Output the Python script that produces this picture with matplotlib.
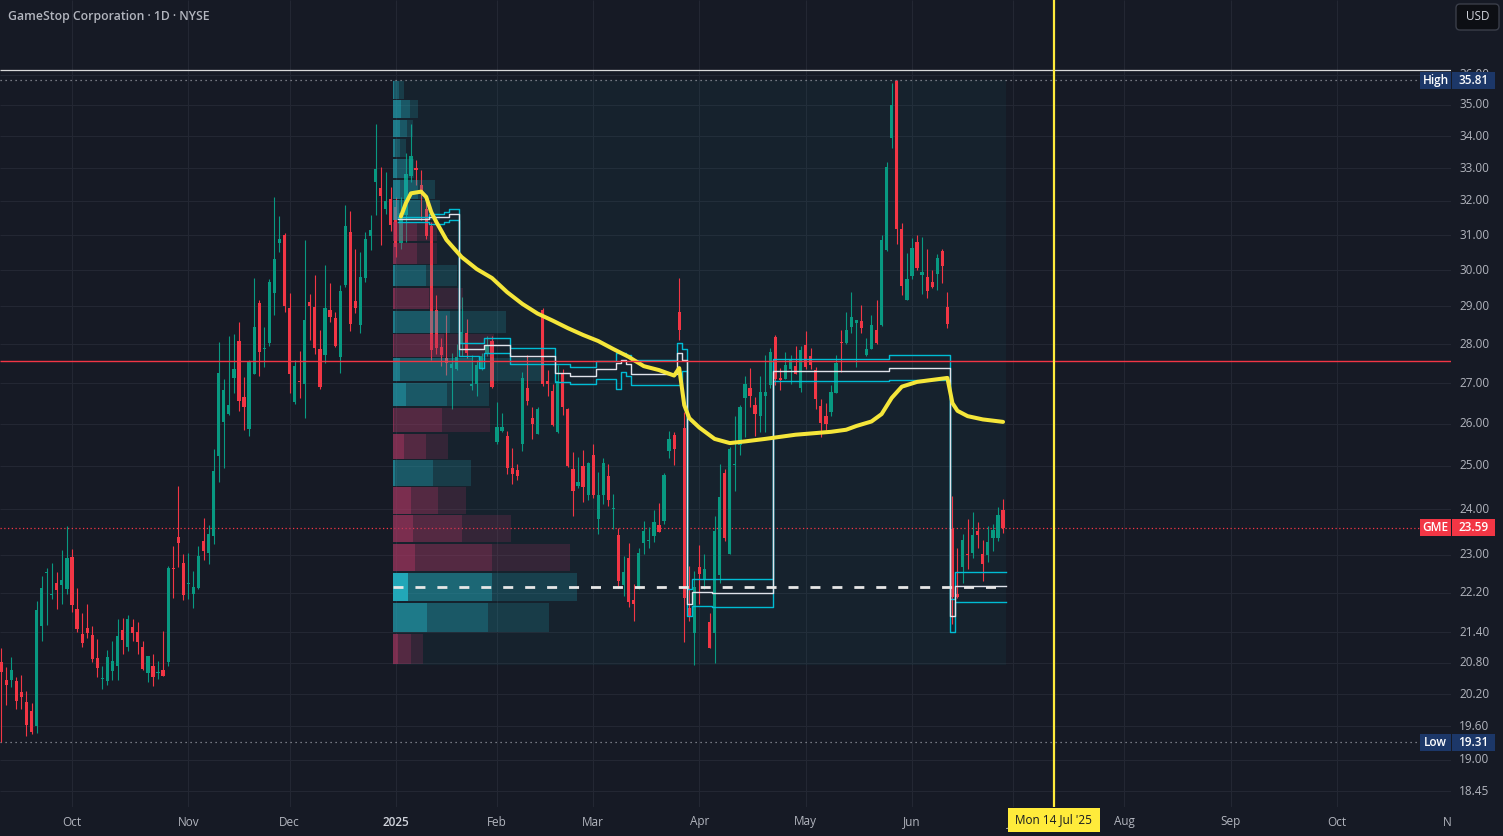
import numpy as np
import pandas as pd
import matplotlib
matplotlib.use("Agg")
import matplotlib.pyplot as plt
from matplotlib.patches import Rectangle, FancyBboxPatch
from matplotlib.transforms import IdentityTransform

# ------------------------------------------------------------------ data
title = "GameStop Corporation \u00b7 1D \u00b7 NYSE"
holidays = ['2024-09-02', '2024-11-28', '2024-12-25', '2025-01-01', '2025-01-09',
            '2025-01-20', '2025-02-17', '2025-04-18', '2025-05-26', '2025-06-19',
            '2025-07-04', '2025-09-01', '2025-11-27', '2025-12-25']
first_date = '2024-09-11'

opens = [20.81, 20.46, 20.46, 20.45, 20.24, 20.05, 19.88, 19.60, 21.52, 22.61,
         22.15, 22.40, 22.36, 22.28, 22.95, 21.87, 21.36, 21.48, 21.34, 20.89,
         20.48, 20.45, 20.64, 20.73, 21.44, 21.10, 21.50, 21.40, 21.10, 20.60,
         20.73, 20.60, 20.66, 20.81, 22.72, 23.39, 22.83, 22.38, 22.17, 22.30,
         23.30, 23.04, 23.41, 25.22, 26.04, 26.23, 27.13, 28.08, 26.65, 25.87,
         27.23, 29.09, 27.87, 28.03, 29.37, 30.77, 31.00, 28.96, 26.53, 27.05,
         26.98, 29.12, 28.99, 27.87, 27.72, 28.91, 28.69, 27.67, 29.59, 31.09,
         29.15, 28.50, 29.78, 30.97, 32.57, 32.39, 31.76, 32.06, 31.82, 30.77,
         31.59, 32.76, 33.00, 32.48, 31.76, 31.26, 28.91, 27.92, 27.64, 27.38,
         27.36, 28.00, 28.29, 26.93, 26.98, 27.38, 27.77, 28.08, 25.55, 25.82,
         25.70, 24.94, 24.90, 25.51, 26.88, 26.13, 25.75, 28.91, 27.05, 26.80,
         25.79, 27.23, 26.35, 24.92, 24.53, 24.99, 24.32, 25.25, 23.78, 24.32,
         24.76, 24.01, 23.43, 22.36, 22.93, 22.05, 22.28, 23.26, 23.30, 23.41,
         23.65, 23.74, 25.34, 25.72, 28.85, 25.89, 21.89, 21.38, 22.74, 22.49,
         21.60, 21.38, 22.57, 24.83, 23.02, 25.01, 25.48, 26.63, 26.88, 26.45,
         26.18, 26.67, 26.95, 28.19, 27.12, 27.10, 27.36, 27.43, 26.88, 27.98,
         27.69, 27.33, 26.43, 26.18, 26.28, 26.75, 28.05, 28.03, 28.45, 28.56,
         28.61, 27.72, 27.87, 28.37, 28.50, 30.57, 33.94, 35.78, 31.17, 29.18,
         29.84, 30.80, 29.86, 29.81, 29.67, 29.89, 30.54, 28.99, 23.56, 22.17,
         22.74, 23.00, 23.04, 23.52, 23.02, 23.00, 23.36, 23.36, 23.98]
highs = [21.08, 20.71, 20.91, 20.52, 20.56, 20.26, 20.03, 22.03, 22.55, 22.72,
         22.83, 22.63, 23.10, 23.63, 23.13, 22.30, 21.78, 21.97, 21.52, 21.26,
         20.73, 21.05, 21.22, 21.66, 21.68, 21.74, 21.66, 21.60, 21.22, 20.93,
         20.97, 20.83, 21.42, 22.76, 23.19, 24.53, 23.02, 23.04, 22.66, 23.19,
         23.80, 23.65, 25.39, 28.05, 27.10, 28.21, 28.26, 28.58, 27.15, 27.59,
         29.78, 29.18, 28.45, 29.75, 32.12, 31.56, 31.06, 29.37, 27.59, 27.82,
         30.86, 29.34, 29.86, 28.37, 30.15, 29.64, 28.85, 29.59, 31.88, 31.70,
         30.60, 30.51, 31.09, 31.59, 34.39, 33.03, 32.88, 32.42, 32.12, 32.12,
         33.47, 34.39, 33.25, 32.94, 32.06, 31.38, 29.31, 28.16, 28.77, 27.77,
         28.00, 29.26, 28.66, 27.72, 27.59, 27.77, 28.21, 28.21, 26.53, 26.26,
         25.82, 25.41, 25.04, 27.28, 27.72, 26.40, 26.40, 28.96, 27.33, 26.98,
         27.46, 27.36, 26.38, 25.32, 25.20, 25.36, 25.08, 25.51, 24.85, 25.18,
         25.04, 24.34, 23.58, 22.98, 23.26, 22.38, 23.15, 23.74, 23.61, 23.98,
         24.14, 24.83, 25.82, 25.79, 29.78, 26.28, 22.76, 22.66, 23.21, 23.02,
         21.78, 23.85, 25.04, 24.92, 25.44, 26.18, 26.45, 27.18, 27.38, 26.65,
         27.18, 27.72, 27.90, 28.24, 27.38, 27.79, 27.72, 27.95, 27.95, 28.34,
         27.90, 27.41, 26.60, 26.50, 26.95, 27.72, 28.37, 28.85, 29.39, 28.64,
         29.04, 28.16, 28.77, 29.18, 31.00, 33.19, 35.73, 35.81, 31.35, 30.48,
         30.91, 31.00, 30.94, 30.60, 30.00, 30.45, 30.60, 29.39, 24.30, 23.15,
         23.45, 23.78, 23.94, 23.72, 23.32, 23.63, 23.67, 24.05, 24.23]
lows = [19.31, 19.99, 20.33, 19.92, 19.92, 19.42, 19.46, 19.48, 21.22, 21.54,
        22.07, 21.87, 21.97, 22.17, 21.80, 21.40, 21.10, 21.28, 20.81, 20.52,
        20.29, 20.37, 20.46, 20.46, 20.97, 21.03, 21.22, 20.97, 20.66, 20.43,
        20.35, 20.48, 20.54, 20.73, 22.09, 22.74, 22.05, 22.07, 21.89, 22.28,
        22.89, 22.80, 23.23, 24.62, 24.94, 26.21, 26.75, 26.30, 25.84, 25.70,
        27.23, 27.18, 27.41, 27.95, 28.77, 30.51, 28.85, 26.75, 26.48, 26.63,
        26.13, 28.11, 27.74, 26.85, 27.51, 28.58, 27.92, 27.25, 29.53, 28.34,
        28.82, 28.29, 29.67, 30.57, 31.59, 30.71, 31.62, 31.12, 30.37, 30.60,
        30.80, 32.57, 32.48, 31.44, 30.88, 27.59, 27.74, 27.43, 27.20, 26.35,
        27.33, 27.69, 27.64, 26.83, 26.67, 27.33, 27.69, 26.88, 25.51, 25.79,
        24.80, 24.57, 24.66, 25.34, 26.45, 25.63, 25.75, 26.93, 26.67, 25.94,
        25.77, 26.21, 24.97, 23.85, 24.48, 24.16, 24.21, 24.25, 23.45, 24.12,
        24.07, 23.56, 22.30, 22.13, 21.91, 21.62, 22.28, 23.02, 23.15, 23.28,
        23.50, 23.67, 25.18, 25.01, 28.11, 21.20, 21.62, 20.75, 21.97, 22.28,
        21.08, 20.79, 22.40, 23.30, 23.02, 24.41, 25.25, 25.67, 26.40, 25.70,
        25.79, 25.79, 26.88, 26.95, 26.83, 27.10, 26.98, 27.23, 26.78, 27.36,
        27.36, 26.35, 25.67, 25.84, 26.18, 26.75, 27.28, 28.00, 28.29, 27.41,
        28.29, 27.69, 27.87, 28.00, 28.48, 30.54, 33.62, 30.74, 29.31, 29.18,
        29.75, 30.00, 29.34, 29.23, 29.50, 29.45, 29.64, 28.42, 21.56, 22.09,
        22.40, 22.70, 22.93, 23.15, 22.45, 22.85, 23.08, 23.30, 23.47]
closes = [20.62, 20.37, 20.66, 20.07, 20.14, 19.62, 19.49, 21.85, 22.30, 22.64,
          22.17, 22.26, 22.47, 22.93, 21.95, 21.46, 21.18, 21.38, 20.87, 20.70,
          20.50, 20.91, 20.83, 21.32, 21.24, 21.66, 21.38, 21.20, 20.68, 20.93,
          20.52, 20.62, 20.54, 22.72, 22.70, 23.26, 22.15, 22.40, 22.32, 22.98,
          23.08, 23.45, 24.87, 27.25, 26.83, 26.45, 27.36, 26.55, 26.40, 27.56,
          28.45, 27.79, 27.90, 29.67, 30.31, 30.88, 29.01, 27.23, 27.43, 27.03,
          28.64, 29.01, 27.90, 26.90, 28.96, 28.72, 27.95, 29.42, 31.26, 28.53,
          28.96, 29.81, 30.88, 31.15, 32.97, 32.15, 32.00, 31.29, 30.66, 31.65,
          32.82, 33.37, 32.94, 32.27, 30.97, 27.85, 27.90, 27.72, 27.51, 27.49,
          27.67, 28.32, 27.77, 26.98, 27.46, 27.69, 27.98, 26.90, 25.91, 25.91,
          24.94, 24.80, 24.76, 27.13, 26.55, 25.99, 26.35, 26.98, 26.98, 25.96,
          27.05, 26.40, 24.99, 24.41, 24.62, 24.50, 25.06, 24.32, 24.32, 25.06,
          24.21, 24.03, 22.45, 22.64, 22.01, 21.97, 23.04, 23.52, 23.32, 23.72,
          23.50, 24.78, 25.63, 25.39, 28.37, 22.09, 21.72, 22.32, 22.59, 22.70,
          21.08, 23.52, 24.28, 23.36, 25.39, 25.04, 26.40, 26.98, 26.67, 26.23,
          26.78, 26.78, 27.79, 27.10, 27.08, 27.46, 27.61, 27.23, 27.85, 27.41,
          27.46, 26.60, 26.01, 25.99, 26.78, 27.51, 28.03, 28.37, 28.72, 28.64,
          28.42, 27.87, 28.50, 28.03, 30.86, 33.03, 35.00, 31.17, 29.56, 29.75,
          30.63, 30.06, 29.95, 29.42, 29.53, 30.34, 30.12, 28.53, 22.11, 22.11,
          23.32, 22.99, 23.43, 23.43, 22.80, 23.28, 23.54, 23.87, 23.59]

# fixed-range volume profile (Jan 2 - Jun 27 2025), 24 rows bottom -> top, relative volume
profile_start, profile_end = '2025-01-02', '2025-06-27'
row_up_vol = [12, 93, 97, 76, 48, 27, 39, 22, 47, 53, 77, 49,
              56, 33, 32, 20, 20, 26, 24, 12, 7, 13, 16, 5.5]
row_dn_vol = [17, 60, 83, 97, 67, 44, 37, 32, 48, 41, 70, 50,
              54, 35, 30, 23, 23, 20, 17, 8, 5, 6, 8, 4.5]

# anchored VWAP
vwap_dates = ['2025-01-03', '2025-01-06', '2025-01-07', '2025-01-10', '2025-01-13',
              '2025-01-14', '2025-01-15', '2025-01-17', '2025-01-23', '2025-01-28',
              '2025-01-31', '2025-02-05', '2025-02-10', '2025-02-13', '2025-02-19',
              '2025-02-24', '2025-02-27', '2025-03-04', '2025-03-07', '2025-03-12',
              '2025-03-17', '2025-03-20', '2025-03-25', '2025-03-26', '2025-03-27',
              '2025-03-28', '2025-04-01', '2025-04-04', '2025-04-09', '2025-04-14',
              '2025-04-21', '2025-04-24', '2025-04-29', '2025-05-05', '2025-05-08',
              '2025-05-13', '2025-05-15', '2025-05-20', '2025-05-22', '2025-05-27',
              '2025-05-29', '2025-06-03', '2025-06-06', '2025-06-11', '2025-06-12',
              '2025-06-13', '2025-06-17', '2025-06-23', '2025-06-27']
vwap_vals = [31.54, 31.94, 32.23, 32.28, 32.12, 31.67, 31.38, 30.86, 30.37, 30.03,
             29.78, 29.39, 29.07, 28.81, 28.62, 28.42, 28.24, 28.08, 27.87, 27.67,
             27.43, 27.33, 27.19, 27.38, 26.45, 26.13, 25.90, 25.63, 25.53, 25.57,
             25.63, 25.68, 25.73, 25.77, 25.80, 25.85, 25.94, 26.05, 26.23, 26.63,
             26.91, 27.03, 27.08, 27.13, 26.50, 26.31, 26.18, 26.10, 26.04]

# developing value area (high / POC / low), step changes
va_dates = ['2025-01-03', '2025-01-14', '2025-01-17', '2025-01-21', '2025-01-23',
            '2025-01-29', '2025-01-30', '2025-02-06', '2025-02-20', '2025-02-25',
            '2025-03-04', '2025-03-10', '2025-03-11', '2025-03-12', '2025-03-13',
            '2025-03-26', '2025-03-27', '2025-03-28', '2025-03-31', '2025-04-04',
            '2025-04-23', '2025-05-27', '2025-06-12', '2025-06-13']
va_end = '2025-06-27'
va_high = [31.54, 31.61, 31.68, 31.75, 28.02, 28.02, 28.15, 27.89, 27.49, 27.42,
           27.56, 27.78, 27.78, 27.72, 27.59, 28.02, 27.86, 22.28, 22.48, 22.48,
           27.61, 27.72, 22.07, 22.64]
va_poc = [31.47, 31.54, 31.54, 31.60, 27.86, 27.86, 27.98, 27.69, 27.25, 27.19,
          27.36, 27.51, 27.60, 27.49, 27.22, 27.76, 27.59, 21.98, 22.21, 22.19,
          27.31, 27.38, 21.72, 22.34]
va_low = [31.39, 31.31, 31.39, 31.43, 27.69, 27.38, 27.77, 27.48, 27.03, 26.98,
          27.10, 26.84, 27.27, 27.19, 26.95, 26.95, 27.31, 21.72, 21.93, 21.90,
          27.05, 27.08, 21.40, 22.02]

hline_red = 27.55
hline_top = 36.16
marker_date = '2025-07-14'
marker_label = "Mon 14 Jul '25"
price_ticks = [18.45, 19.00, 19.60, 20.20, 20.80, 21.40, 22.20, 23.00, 24.00, 25.00,
               26.00, 27.00, 28.00, 29.00, 30.00, 31.00, 32.00, 33.00, 34.00, 35.00, 36.00]

# ------------------------------------------------------------------ style
W, H = 1503, 836
BG = '#161a25'
GRID = '#232733'
TXT = '#b2b5be'
UP, DN = '#089981', '#f23645'
plt.rcParams['font.family'] = ['Open Sans', 'DejaVu Sans']

cal = pd.bdate_range(first_date, '2025-12-31', freq='C', holidays=holidays)
def pos(d):
    return cal.get_loc(pd.Timestamp(d))

BAR_PX = 5.06
ANCHOR = pos('2024-10-01')
ANCHOR_PX = 72.0
AX_R, AX_B = 1451, 807
xl0 = ANCHOR - ANCHOR_PX / BAR_PX
xl1 = xl0 + AX_R / BAR_PX
YL = (18.18, 38.60)

fig = plt.figure(figsize=(W / 100, H / 100), dpi=100, facecolor=BG)
ax = fig.add_axes([0, (H - AX_B) / H, AX_R / W, AX_B / H])
ax.set_facecolor(BG)
ax.set_yscale('log')
ax.set_xlim(xl0, xl1)
ax.set_ylim(*YL)
ax.set_axis_off()

def X(p):
    return ax.transData.transform((p, 25.0))[0]
def Y(v):
    return ax.transData.transform((xl0, v))[1]

# grid
months = pd.date_range('2024-10-01', '2025-11-01', freq='MS')
month_pos = [int(np.searchsorted(cal.values, m.to_datetime64())) for m in months]
ax.hlines(price_ticks, xl0, xl1, color=GRID, lw=0.8, zorder=0.2)
ax.vlines(month_pos, YL[0], YL[1], color=GRID, lw=0.8, zorder=0.2)

# candles
n = len(closes)
xs = np.arange(n)
o, h, l, c = map(np.asarray, (opens, highs, lows, closes))
cols = np.where(c >= o, UP, DN)
ax.vlines(xs, l, h, colors=cols, lw=0.8, zorder=3)
body_lo = np.minimum(o, c)
body_h = np.maximum(np.abs(c - o), 0.025)
ax.bar(xs, body_h, bottom=body_lo, width=0.64, color=cols, linewidth=0, zorder=3)

# volume profile
p0, p1 = pos(profile_start), pos(profile_end)
seg_lo = min(lows[p0:p1 + 1]); seg_hi = max(highs[p0:p1 + 1])
left, right = p0 - 0.5, p1 + 0.5
ax.add_patch(Rectangle((left, seg_lo), right - left, seg_hi - seg_lo,
                       facecolor=(0.13, 0.65, 0.72, 0.06), edgecolor='none', zorder=0.5))
edges = np.linspace(seg_lo, seg_hi, len(row_up_vol) + 1)
up = np.asarray(row_up_vol, float); dn = np.asarray(row_dn_vol, float)
tot = up + dn
scale = 0.30 * (right - left) / tot.max()
poc_row = int(np.argmax(tot))
for i in range(len(up)):
    b0 = edges[i] * 1.0008; b1 = edges[i + 1] * 0.9992
    base = '#22a7b8' if up[i] >= dn[i] else '#ae3561'
    al = (1.0, 0.52, 0.23) if i == poc_row else (0.67, 0.41, 0.2)
    delta = abs(up[i] - dn[i]); mx = max(up[i], dn[i])
    segs = [(0, delta, al[0]), (delta, mx, al[1]), (mx, tot[i], al[2])]
    for a0, a1, alpha in segs:
        ax.barh(b0, (a1 - a0) * scale, height=b1 - b0, left=left + a0 * scale,
                align='edge', color=base, alpha=alpha, linewidth=0, zorder=4)
poc_price = 0.5 * (edges[poc_row] + edges[poc_row + 1])
ax.hlines(poc_price, left, right, color='#e6e6e6', lw=2.0, linestyles=(0, (3.6, 4.3)), zorder=6)

# developing value area steps
vx = [pos(d) - 0.5 for d in va_dates] + [pos(va_end) + 0.5]
for vals, colr in ((va_high, '#00bcd4'), (va_low, '#00bcd4'), (va_poc, '#e0e3eb')):
    ax.step(vx, list(vals) + [vals[-1]], where='post', color=colr, lw=1.0, zorder=5)

# VWAP
ax.plot([pos(d) for d in vwap_dates], vwap_vals, color='#f5e63a', lw=2.9,
        solid_joinstyle='round', solid_capstyle='round', zorder=6)

# horizontal lines
ax.hlines(hline_red, xl0, xl1, color='#f23645', lw=1.0, zorder=7)
ax.hlines(hline_top, xl0, xl1, color='#d8d8d8', lw=0.9, zorder=7)
ax.hlines([max(highs)], xl0, xl1, color='#9598a1', lw=0.9, linestyles=(0, (1, 3)), zorder=2)
ax.hlines([min(lows)], xl0, xl1, color='#9598a1', lw=0.9, linestyles=(0, (1, 3)), zorder=2)
ax.hlines([closes[-1]], xl0, xl1, color=DN, lw=0.9, linestyles=(0, (1, 2)), zorder=2)
ax.axvline(pos(marker_date), color='#ffeb3b', lw=1.6, zorder=8)

# ------------------------------------------------------------------ decorations (pixel coords)
ID = IdentityTransform()
fig.text(8, H - 16.5, title, transform=ID, va='center', ha='left', color=TXT,
         fontsize=8.8, fontweight='semibold')

for m, p in zip(months, month_pos):
    lab = '2025' if m.month == 1 else m.strftime('%b')
    fig.text(X(p), H - 822, lab, transform=ID, ha='center', va='center',
             color='#d1d4dc' if lab == '2025' else TXT, fontsize=8.5,
             fontweight='semibold' if lab == '2025' else 'normal', zorder=3)

# price-scale column covers anything drawn past the chart's right edge
fig.add_artist(Rectangle((AX_R, 0), W - AX_R, H, transform=ID, facecolor=BG,
                         edgecolor='none', zorder=3.5))
for t in price_ticks:
    fig.text(1474.5, Y(t), f'{t:.2f}', transform=ID, ha='center', va='center',
             color=TXT, fontsize=8.5, zorder=4)

def tag(v, name, valtxt, fc):
    yc = Y(v)
    fig.add_artist(Rectangle((1420, yc - 8.5), 31, 17, transform=ID, facecolor=fc,
                             edgecolor='none', zorder=5))
    fig.add_artist(Rectangle((1452, yc - 8.5), 43, 17, transform=ID, facecolor=fc,
                             edgecolor='none', zorder=5))
    fig.text(1435.5, yc, name, transform=ID, ha='center', va='center', color='white',
             fontsize=8.5, fontweight='semibold', zorder=6)
    fig.text(1473.5, yc, valtxt, transform=ID, ha='center', va='center', color='white',
             fontsize=8.5, fontweight='semibold', zorder=6)

tag(max(highs), 'High', f'{max(highs):.2f}', '#1c3768')
tag(closes[-1], 'GME', f'{closes[-1]:.2f}', '#f23645')
tag(min(lows), 'Low', f'{min(lows):.2f}', '#1c3768')

fig.add_artist(FancyBboxPatch((1456, H - 30), 43, 26, boxstyle='round,pad=0,rounding_size=4',
                              transform=ID, facecolor='#0d0f14', edgecolor='#3a3e49',
                              lw=1.0, zorder=5))
fig.text(1477.5, H - 17, 'USD', transform=ID, ha='center', va='center', color='#d1d4dc',
         fontsize=8.5, zorder=6)

xm = X(pos(marker_date))
fig.add_artist(Rectangle((xm - 46, H - 832), 92, 24, transform=ID, facecolor='#ffeb3b',
                         edgecolor='none', zorder=5))
fig.text(xm, H - 820, marker_label, transform=ID, ha='center', va='center',
         color='#131722', fontsize=8.5, zorder=6)

fig.savefig('out.png', dpi=100, facecolor=BG)
